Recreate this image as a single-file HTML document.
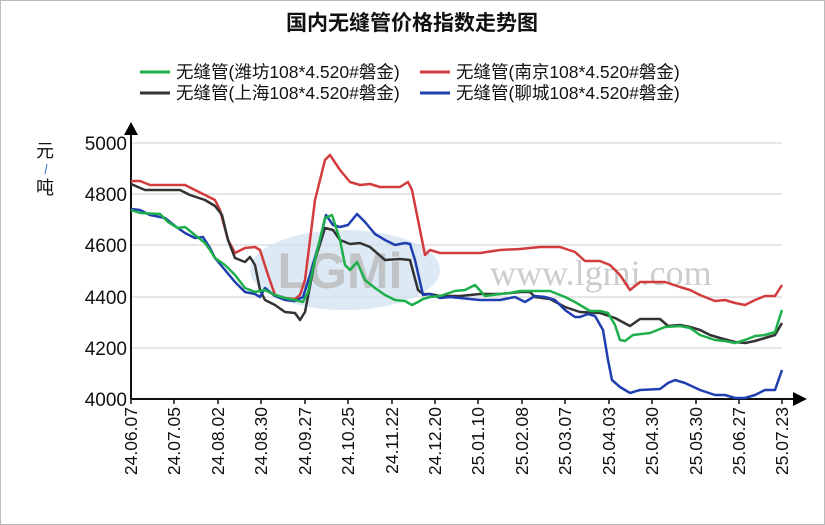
<!DOCTYPE html>
<html><head><meta charset="utf-8"><style>
body{margin:0;background:#fff}
svg{display:block;font-family:"Liberation Sans","Noto Sans CJK SC",sans-serif}
</style></head><body>
<svg width="825" height="525" viewBox="0 0 825 525">
<rect x="0.5" y="0.5" width="824" height="524" fill="#fff" stroke="#bbb"/>
<text x="412" y="30" text-anchor="middle" font-size="21" font-weight="bold" fill="#111">国内无缝管价格指数走势图</text>
<g font-size="17.5" fill="#111">
<line x1="140" y1="72" x2="170" y2="72" stroke="#1db04a" stroke-width="3"/><text x="176" y="78">无缝管(潍坊108*4.520#磐金)</text>
<line x1="420" y1="72" x2="450" y2="72" stroke="#d23c3c" stroke-width="3"/><text x="456" y="78">无缝管(南京108*4.520#磐金)</text>
<line x1="140" y1="93" x2="170" y2="93" stroke="#333" stroke-width="3"/><text x="176" y="99">无缝管(上海108*4.520#磐金)</text>
<line x1="420" y1="93" x2="450" y2="93" stroke="#1f3fb0" stroke-width="3"/><text x="456" y="99">无缝管(聊城108*4.520#磐金)</text>
</g>
<g stroke="#ddd" stroke-width="1.5">
<line x1="131" y1="143" x2="782" y2="143"/><line x1="131" y1="194" x2="782" y2="194"/><line x1="131" y1="245" x2="782" y2="245"/><line x1="131" y1="297" x2="782" y2="297"/><line x1="131" y1="348" x2="782" y2="348"/>
</g>
<ellipse cx="345" cy="270" rx="95" ry="40" fill="#cfe0f0" opacity="0.7"/>
<text x="340" y="288" text-anchor="middle" font-size="50" font-weight="bold" fill="#bbb" opacity="0.8">LGMi</text>
<text x="490" y="285" font-family="Liberation Serif,serif" font-size="36" fill="#ccc">www.lgmi.com</text>
<g font-size="19" fill="#111" text-anchor="end">
<text x="127" y="150">5000</text><text x="127" y="201">4800</text><text x="127" y="252">4600</text><text x="127" y="304">4400</text><text x="127" y="355">4200</text><text x="127" y="406">4000</text>
</g>
<text x="36" y="157" font-size="18" fill="#111">元</text>
<line x1="47" y1="164" x2="45" y2="174" stroke="#3a6fd0"/>
<text x="36" y="194" font-size="18" fill="#111">吨</text>
<line x1="131" y1="399" x2="131" y2="133" stroke="#111" stroke-width="2"/>
<polygon points="124,135 138,135 131,122" fill="#000"/>
<line x1="131" y1="399" x2="795" y2="399" stroke="#111" stroke-width="2"/>
<polygon points="793,392 793,406 807,399" fill="#000"/>
<g stroke="#111" stroke-width="1.5">
<line x1="131" y1="399" x2="131" y2="404"/><line x1="174" y1="399" x2="174" y2="404"/><line x1="218" y1="399" x2="218" y2="404"/><line x1="261" y1="399" x2="261" y2="404"/><line x1="305" y1="399" x2="305" y2="404"/><line x1="348" y1="399" x2="348" y2="404"/><line x1="392" y1="399" x2="392" y2="404"/><line x1="435" y1="399" x2="435" y2="404"/><line x1="478" y1="399" x2="478" y2="404"/><line x1="522" y1="399" x2="522" y2="404"/><line x1="565" y1="399" x2="565" y2="404"/><line x1="609" y1="399" x2="609" y2="404"/><line x1="652" y1="399" x2="652" y2="404"/><line x1="696" y1="399" x2="696" y2="404"/><line x1="739" y1="399" x2="739" y2="404"/><line x1="782" y1="399" x2="782" y2="404"/>
</g>
<g font-size="17.5" fill="#111" text-anchor="end">
<text transform="translate(137,407) rotate(-90)">24.06.07</text>
<text transform="translate(180,407) rotate(-90)">24.07.05</text>
<text transform="translate(224,407) rotate(-90)">24.08.02</text>
<text transform="translate(267,407) rotate(-90)">24.08.30</text>
<text transform="translate(311,407) rotate(-90)">24.09.27</text>
<text transform="translate(354,407) rotate(-90)">24.10.25</text>
<text transform="translate(398,407) rotate(-90)">24.11.22</text>
<text transform="translate(441,407) rotate(-90)">24.12.20</text>
<text transform="translate(484,407) rotate(-90)">25.01.10</text>
<text transform="translate(528,407) rotate(-90)">25.02.08</text>
<text transform="translate(571,407) rotate(-90)">25.03.07</text>
<text transform="translate(615,407) rotate(-90)">25.04.03</text>
<text transform="translate(658,407) rotate(-90)">25.04.30</text>
<text transform="translate(702,407) rotate(-90)">25.05.30</text>
<text transform="translate(745,407) rotate(-90)">25.06.27</text>
<text transform="translate(788,407) rotate(-90)">25.07.23</text>
</g>
<g fill="none" stroke-width="2.5" stroke-linejoin="round">
<polyline stroke="#d23c3c" points="131,181 140,181 150,185 185,185 195,190 205,195 215,200 220,210 228,240 235,253 245,248 255,247 260,250 268,275 275,295 285,298 295,299 300,295 305,280 315,200 325,160 330,155 340,170 350,182 360,185 370,184 380,187 400,187 408,182 412,190 418,220 425,255 430,250 440,253 480,253 500,250 520,249 540,247 560,247 575,252 585,261 600,261 610,265 620,275 630,290 640,282 665,282 680,287 690,290 700,295 715,301 725,300 735,303 745,305 755,300 765,296 775,296 782,285"/>
<polyline stroke="#333" points="131,184 145,190 180,190 190,195 205,200 215,206 222,215 228,240 235,258 245,262 250,257 255,265 260,290 265,300 275,305 285,312 295,313 300,320 305,312 315,260 325,228 333,230 340,240 350,244 360,243 370,247 385,260 400,259 410,260 418,290 423,294 430,294 440,296 460,296 480,294 500,294 520,292 530,292 535,297 550,299 565,307 580,312 600,313 615,318 630,326 640,319 660,319 668,326 680,325 690,327 700,330 710,335 720,338 735,342 745,343 755,341 765,338 775,335 782,323"/>
<polyline stroke="#1f3fb0" points="131,209 140,210 150,215 165,218 175,226 185,233 195,238 203,237 210,248 215,258 225,270 235,282 245,292 255,294 260,297 265,288 275,296 285,300 295,301 303,297 310,275 320,240 326,215 333,225 340,227 348,225 357,214 365,222 375,234 385,240 395,245 405,243 410,244 415,260 423,295 430,294 440,298 450,297 460,298 480,300 500,300 515,297 525,302 535,296 545,297 555,300 565,310 575,317 580,317 588,314 595,316 603,330 608,360 612,380 620,387 630,393 640,390 660,389 668,383 675,380 685,383 700,390 715,395 725,395 735,398 745,398 755,395 765,390 775,390 782,370"/>
<polyline stroke="#1db04a" points="131,210 140,213 160,214 168,222 178,228 185,227 195,235 205,243 210,250 215,258 225,265 235,275 245,288 255,292 265,290 275,295 285,298 295,300 303,302 308,292 315,260 325,218 332,215 340,240 345,265 350,270 357,262 365,280 375,288 385,295 395,300 405,301 412,305 418,302 423,299 430,297 440,296 455,291 465,290 475,285 485,296 500,294 510,293 520,291 530,291 550,291 565,297 575,302 590,311 600,311 608,313 615,325 620,340 625,341 633,335 650,333 665,327 680,326 690,328 700,335 715,340 725,341 735,343 745,340 755,336 765,335 775,332 782,310"/>
</g>
</svg>
</body></html>
